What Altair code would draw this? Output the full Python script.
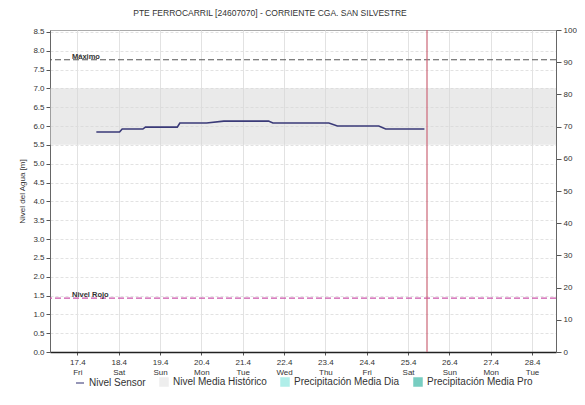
import altair as alt
import pandas as pd

# ---- data ----
title_text = "PTE FERROCARRIL [24607070] - CORRIENTE CGA. SAN SILVESTRE"
sensor_time = ["2020-04-17T11:00", "2020-04-18T00:30", "2020-04-18T02:00", "2020-04-18T14:00",
               "2020-04-18T15:30", "2020-04-19T10:00", "2020-04-19T11:30", "2020-04-20T03:00",
               "2020-04-20T13:00", "2020-04-21T15:00", "2020-04-21T17:30", "2020-04-23T02:00",
               "2020-04-23T07:00", "2020-04-24T07:00", "2020-04-24T11:00", "2020-04-25T09:30"]
sensor_level = [5.84, 5.84, 5.92, 5.92, 5.97, 5.97, 6.08, 6.08,
                6.13, 6.13, 6.08, 6.08, 6.00, 6.00, 5.92, 5.92]
precip_day = ["2020-04-%02dT12:00" % d for d in range(17, 29)]
precip_mm = [0] * 12
hist_low, hist_high = 5.5, 7.0
nivel_maximo = 7.76
nivel_rojo = 1.43
now_time = "2020-04-25T11:00"
y_ticks = [0.0, 0.5, 1.0, 1.5, 2.0, 2.5, 3.0, 3.5, 4.0, 4.5, 5.0, 5.5, 6.0, 6.5, 7.0, 7.5, 8.0, 8.5]
p_ticks = [0, 10, 20, 30, 40, 50, 60, 70, 80, 90, 100]
legend_names = ["Nivel Sensor", "Nivel Media Histórico",
                "Precipitación Media Dia", "Precipitación Media Pro"]
legend_colors = ["#3a3a78", "#e8e8e8", "#8fe8e0", "#3fb8a8"]
legend_shapes = ["stroke", "square", "square", "square"]

FONT = "Liberation Sans"

sensor_df = pd.DataFrame({"t": sensor_time, "v": sensor_level, "serie": "Nivel Sensor"})
precip_df = pd.DataFrame({"t": precip_day, "p": precip_mm})
band_df = pd.DataFrame({"lo": [hist_low], "hi": [hist_high]})
levels_df = pd.DataFrame({"v": [nivel_maximo, nivel_rojo], "name": ["Máximo", "Nivel Rojo"]})
now_df = pd.DataFrame({"t": [now_time]})

x_domain = [alt.DateTime(year=2020, month=4, date=16, hours=11),
            alt.DateTime(year=2020, month=4, date=28, hours=11)]
x_values = []
for d in range(17, 29):
    x_values.append(alt.DateTime(year=2020, month=4, date=d, hours=0))
    x_values.append(alt.DateTime(year=2020, month=4, date=d, hours=12))

xscale = alt.Scale(domain=x_domain)
ydom = [0, 8.55]

def yscale():
    return alt.Scale(domain=ydom, nice=False, zero=False)

x_enc = alt.X("t:T", scale=xscale, title=None,
              axis=alt.Axis(values=x_values,
                            labelExpr="hours(datum.value) == 0 ? [timeFormat(datum.value, '%-d.%-m'), timeFormat(datum.value, '%a')] : ''",
                            grid=True, gridColor="#e2e2e2", domainColor="#222222", domainWidth=1.5,
                            tickColor="#555", tickSize=3, labelFontSize=8, labelColor="#333",
                            labelLineHeight=10, labelPadding=3, labelFlush=False, labelOverlap=False))

y_axis = alt.Axis(orient="left", values=y_ticks, format=".1f", title="Nivel del Agua [m]",
                  titleFontSize=8, titleFontWeight="normal", titleColor="#333", titlePadding=6,
                  labelFontSize=8, labelColor="#333", tickColor="#555", tickSize=4,
                  labelOverlap=False, labelFlush=False,
                  grid=True, gridColor="#e2e2e2", gridDash=[3, 2], domainColor="#666")

band = alt.Chart(band_df).mark_rect(color="#d6d6d6", opacity=0.5).encode(
    y=alt.Y("lo:Q", scale=yscale(), axis=y_axis), y2="hi:Q")

line = alt.Chart(sensor_df).mark_line(color="#3a3a78", strokeWidth=1.6).encode(
    x=x_enc, y=alt.Y("v:Q", scale=yscale(), axis=None))

legend_scale = alt.Scale(domain=legend_names, range=legend_colors)
legend_pts = alt.Chart(sensor_df).transform_filter("datum.v < 0").mark_point(filled=True).encode(
    x=alt.X("t:T", scale=xscale),
    y=alt.Y("v:Q", scale=yscale(), axis=None),
    color=alt.Color("serie:N", scale=legend_scale,
                    legend=alt.Legend(orient="none", legendX=25, legendY=347, direction="horizontal",
                                      title=None, labelFontSize=10, labelColor="#333", symbolSize=64,
                                      symbolStrokeWidth=1.5, columnPadding=11, labelOffset=4,
                                      labelFont=FONT)),
    stroke=alt.Stroke("serie:N", scale=legend_scale, legend=None),
    shape=alt.Shape("serie:N", scale=alt.Scale(domain=legend_names, range=legend_shapes), legend=None))

max_rule = alt.Chart(levels_df.iloc[[0]]).mark_rule(color="#555555", strokeDash=[6, 3], strokeWidth=1.2).encode(
    y=alt.Y("v:Q", scale=yscale(), axis=None))
rojo_rule = alt.Chart(levels_df.iloc[[1]]).mark_rule(color="#cc55aa", strokeDash=[6, 3], strokeWidth=1.2).encode(
    y=alt.Y("v:Q", scale=yscale(), axis=None))
level_text = alt.Chart(levels_df).mark_text(align="left", baseline="middle", dy=-3, fontSize=7.5,
                                            fontWeight="bold", color="#333", font=FONT).encode(
    x=alt.value(22), y=alt.Y("v:Q", scale=yscale(), axis=None), text="name:N")

now_rule = alt.Chart(now_df).mark_rule(color="#cc6677", strokeWidth=1.2).encode(
    x=alt.X("t:T", scale=xscale))

precip = alt.Chart(precip_df).mark_bar(color="#3fb8a8", size=8).encode(
    x=alt.X("t:T", scale=xscale),
    y=alt.Y("p:Q", scale=alt.Scale(domain=[0, 100], nice=False),
            axis=alt.Axis(orient="right", values=p_ticks, title="Precipitación [mm]",
                          titleFontSize=8, titleFontWeight="normal", titleColor="#333", titlePadding=4,
                          labelFontSize=8, labelColor="#333", tickColor="#555", tickSize=5,
                          labelOverlap=False, grid=False, domainColor="#666")))

chart = alt.layer(band, line, max_rule, rojo_rule, level_text, now_rule, legend_pts, precip).resolve_scale(
    y="independent").properties(
    width=506, height=322,
    autosize=alt.AutoSizeParams(type="none"),
    padding={"left": 42, "top": 22, "right": 21, "bottom": 38},
    title=alt.TitleParams(title_text, fontSize=8.5, fontWeight="normal", color="#333", font=FONT,
                          anchor="middle", frame="group", dx=-33, offset=9),
).configure(font=FONT).configure_axis(labelOverlap=False).configure_view(stroke="#aaaaaa")

chart.save("out.html", embed_options={"renderer": "svg", "actions": False})
